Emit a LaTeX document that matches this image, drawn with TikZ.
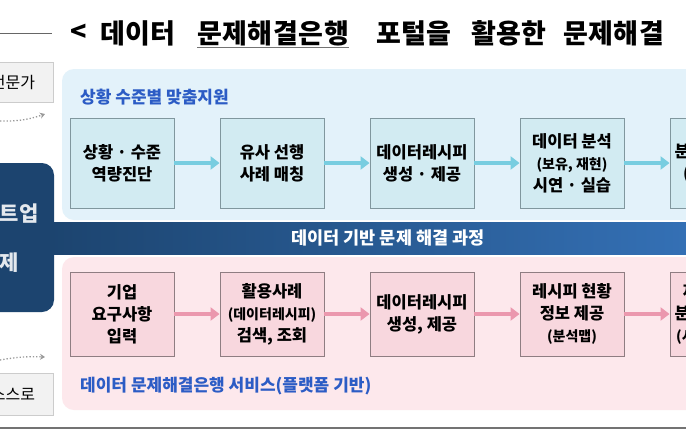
\documentclass[tikz,border=0pt]{standalone}
\usepackage{fontspec}
\setmainfont{Noto Sans CJK KR}
\newfontfamily\ttlfont[LetterSpace=2]{Noto Sans CJK KR}
\usetikzlibrary{arrows.meta}

\definecolor{navy}{HTML}{1C446F}
\definecolor{bandblue}{HTML}{3470B5}
\definecolor{skypanel}{HTML}{E3F2FA}
\definecolor{skybox}{HTML}{D2EBF2}
\definecolor{skyline}{HTML}{80979E}
\definecolor{skyarrow}{HTML}{78CDE0}
\definecolor{rosepanel}{HTML}{FDE8EC}
\definecolor{rosebox}{HTML}{F8D7DE}
\definecolor{roseline}{HTML}{8F7D82}
\definecolor{rosearrow}{HTML}{EB98AE}
\definecolor{lblblue}{HTML}{2C5CC5}
\definecolor{sidegray}{HTML}{F2F2F2}

\newcommand{\subtxt}{\fontsize{14}{21}\selectfont}

\begin{document}
\begin{tikzpicture}[x=1pt, y=-1pt,
    cell/.style={rectangle, draw, line width=0.9pt, minimum width=104pt, align=center,
        font=\bfseries\fontsize{16.5}{22}\selectfont},
    sky/.style={fill=skybox, draw=skyline},
    rose/.style={fill=rosebox, draw=roseline},
    ttl/.style={anchor=west, inner sep=0pt, font=\ttlfont\bfseries\fontsize{27}{30}\selectfont},
    lbl/.style={anchor=west, inner sep=0pt, text=lblblue, font=\bfseries\fontsize{17}{20}\selectfont},
    side/.style={rectangle, fill=sidegray, draw=black!20, line width=0.8pt, minimum width=80pt,
        font=\fontsize{16}{18}\selectfont}
]
    \useasboundingbox (0,0) rectangle (686,440);
    \clip (0,0) rectangle (686,440);
    \fill[white] (0,0) rectangle (686,440);

    % Title
    \draw[black!60, line width=0.8pt] (0,33) -- (52,33);
    \node[ttl] (lt) at (70,33) {<};
    \node[ttl] (w1) at (100,33) {데이터};
    \node[ttl] (w2) at (197,33) {문제해결은행};
    \node[ttl] (w3) at (376,33) {포털을};
    \node[ttl] (w4) at (471,33) {활용한};
    \node[ttl] (w5) at (563,33) {문제해결};
    \draw[black!55, line width=0.8pt] ([yshift=-2pt]w2.south west) -- ([yshift=-2pt]w2.south east);

    % Panels
    \fill[skypanel, rounded corners=12pt] (62,69) rectangle (720,220);
    \fill[rosepanel, rounded corners=12pt] (62,257) rectangle (720,410);

    % Left block and band
    \fill[navy, rounded corners=12pt] (-30,163) rectangle (54,312);
    \shade[left color=navy, right color=bandblue] (50,222) rectangle (686,254);
    \node[align=center, text=white!88!navy, font=\bfseries\fontsize{21}{49}\selectfont] (who) at (0,238) {스타트업\\문제};
    \node[text=white, font=\bfseries\fontsize{17.5}{20}\selectfont] (band) at (388,238) {데이터 기반 문제 해결 과정};

    % Side boxes
    \node[side, minimum height=40pt] (expert) at (13,82) {전문가};
    \node[side, minimum height=42pt] (self) at (13,394) {스스로};
    \coordinate (e1) at (0,121);
    \coordinate (e2) at (45,114);
    \coordinate (s1) at (0,360);
    \coordinate (s2) at (45,357);
    \draw[black!40, dotted, line width=1.3pt, -{Stealth[length=5pt, width=6pt]}] (e1) to[bend right=10] (e2);
    \draw[black!40, dotted, line width=1.3pt, -{Stealth[length=5pt, width=6pt]}] (s1) to[bend left=6] (s2);

    % Panel labels
    \node[lbl] (toplbl) at (80,97) {상황 수준별 맞춤지원};
    \node[lbl] (botlbl) at (80,386) {데이터 문제해결은행 서비스(플랫폼 기반)};

    % Top row
    \foreach \i/\txt in {1/{상황 · 수준\\역량진단}, 2/{유사 선행\\사례 매칭}, 3/{데이터레시피\\생성 · 제공},
        4/{데이터 분석\\{\subtxt (보유, 재현)}\\시연 · 실습}, 5/{분석결과 활용\\(지원 연계)}} {
        \node[cell, sky, minimum height=90pt] (t\i) at ({122+150*(\i-1)},163) {\txt};
    }
    \foreach \i/\j in {1/2, 2/3, 3/4, 4/5} {
        \draw[skyarrow, line width=3.5pt, -{Triangle[length=9pt, width=13pt]}] (t\i) -- (t\j);
    }

    % Bottom row
    \foreach \i/\txt in {1/{기업\\요구사항\\입력}, 2/{활용사례\\{\subtxt (데이터레시피)}\\검색, 조회},
        3/{데이터레시피\\생성, 제공}, 4/{레시피 현황\\정보 제공\\{\subtxt (분석맵)}},
        5/{재현 · 분석\\분석결과 확인\\{\subtxt (시각화 보고서)}}} {
        \node[cell, rose, minimum height=84pt] (b\i) at ({122+150*(\i-1)},314) {\txt};
    }
    \foreach \i/\j in {1/2, 2/3, 3/4, 4/5} {
        \draw[rosearrow, line width=3.5pt, -{Triangle[length=9pt, width=13pt]}] (b\i) -- (b\j);
    }

    % Bottom rule
    \draw[black!55, line width=1.8pt] (0,428) -- (686,428);
\end{tikzpicture}
\end{document}
